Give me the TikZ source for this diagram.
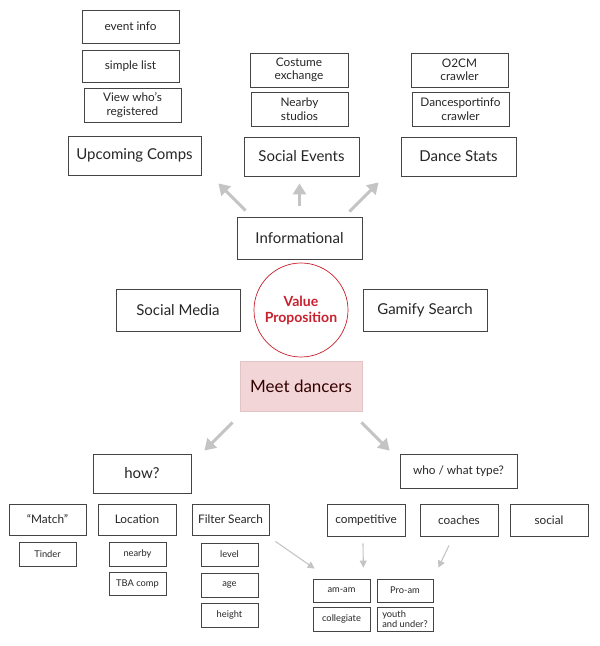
\documentclass[tikz,border=0pt]{standalone}
\usepackage{fontspec}
\setmainfont{Lato}
\usetikzlibrary{arrows.meta}

\definecolor{boxline}{HTML}{444444}
\definecolor{arrowgray}{HTML}{C4C4C4}
\definecolor{vpred}{HTML}{C8202C}
\definecolor{meetfill}{HTML}{F2D5D6}
\definecolor{meetline}{HTML}{E2C4C5}

\begin{document}
\begin{tikzpicture}[x=1pt,y=-1pt,
                box/.style={draw=boxline,line width=0.8pt,inner sep=0pt,align=center,text=black!85},
                bigbox/.style={box,font=\fontsize{15}{17}\selectfont},
                midbox/.style={box,font=\fontsize{11.8}{13.5}\selectfont},
                tinybox/.style={box,line width=0.7pt,font=\fontsize{9.3}{10.5}\selectfont},
                bigarrow/.style={arrowgray,line width=3pt,-{Triangle[width=13pt,length=11pt]}},
                thinarrow/.style={arrowgray,line width=1.1pt,-{Triangle[width=7pt,length=7pt]}}]
                \useasboundingbox (0,0) rectangle (600,646);
                % informational branch
                \node[midbox,minimum width=97pt,minimum height=33pt] (eventinfo) at (130.5,26.5) {event info};
                \node[midbox,minimum width=97pt,minimum height=32pt] (simplelist) at (130.5,66) {simple list};
                \node[midbox,minimum width=97pt,minimum height=34pt] (viewwho) at (132.5,105) {View who’s\\registered};
                \node[bigbox,minimum width=133pt,minimum height=39pt] (upcoming) at (134.5,155.5) {Upcoming Comps};
                \node[midbox,minimum width=98pt,minimum height=34pt] (costume) at (299,70) {Costume\\exchange};
                \node[midbox,minimum width=97pt,minimum height=34pt] (studios) at (299.5,109) {Nearby\\studios};
                \node[bigbox,minimum width=115pt,minimum height=39pt] (socialev) at (301.5,156.5) {Social Events};
                \node[midbox,minimum width=97pt,minimum height=34pt] (otcm) at (459.5,70) {O2CM\\crawler};
                \node[midbox,minimum width=97pt,minimum height=34pt] (dsinfo) at (460.5,109) {Dancesportinfo\\crawler};
                \node[bigbox,minimum width=115pt,minimum height=39pt] (stats) at (458.5,156.5) {Dance Stats};
                \node[bigbox,minimum width=125pt,minimum height=42pt] (info) at (299.5,238) {Informational};
                % centre
                \node[bigbox,minimum width=124pt,minimum height=42pt] (socmedia) at (178,310) {Social Media};
                \node[circle,draw=vpred,line width=0.7pt,minimum size=94pt,inner sep=0pt,align=center,
                      text=vpred,font=\fontsize{14}{16}\selectfont\bfseries] (vp) at (301,310) {Value\\Proposition};
                \node[bigbox,minimum width=124pt,minimum height=42pt] (gamify) at (425,310) {Gamify Search};
                \node[box,draw=meetline,fill=meetfill,text=black!80!red,minimum width=122pt,minimum height=50pt,
                      font=\fontsize{17}{19}\selectfont] (meet) at (301,386) {Meet dancers};
                % how?
                \node[bigbox,minimum width=98pt,minimum height=39pt] (how) at (142,473.5) {how?};
                \node[midbox,minimum width=77pt,minimum height=31pt] (match) at (47.5,519.5) {“Match”};
                \node[midbox,minimum width=78pt,minimum height=31pt] (location) at (137,519.5) {Location};
                \node[midbox,minimum width=77pt,minimum height=31pt] (filter) at (230.5,519.5) {Filter Search};
                \node[tinybox,minimum width=57pt,minimum height=24pt] (tinder) at (47.5,554) {Tinder};
                \node[tinybox,minimum width=57pt,minimum height=24pt] (nearby) at (137.5,554) {nearby};
                \node[tinybox,minimum width=57pt,minimum height=23pt] (tba) at (137.5,583.5) {TBA comp};
                \node[tinybox,minimum width=57pt,minimum height=23pt] (level) at (229.5,554.5) {level};
                \node[tinybox,minimum width=57pt,minimum height=24pt] (age) at (229.5,585) {age};
                \node[tinybox,minimum width=57pt,minimum height=24pt] (height) at (229.5,615) {height};
                % who / what type?
                \node[midbox,minimum width=117pt,minimum height=34pt] (who) at (458.5,471) {who / what type?};
                \node[midbox,minimum width=78pt,minimum height=32pt] (competitive) at (366,520) {competitive};
                \node[midbox,minimum width=78pt,minimum height=32pt] (coaches) at (459,520) {coaches};
                \node[midbox,minimum width=78pt,minimum height=32pt] (social) at (549,520) {social};
                \node[tinybox,minimum width=57pt,minimum height=23pt] (amam) at (341.5,590.5) {am-am};
                \node[tinybox,minimum width=56pt,minimum height=23pt] (proam) at (405,590.5) {Pro-am};
                \node[tinybox,minimum width=57pt,minimum height=24pt] (collegiate) at (341.5,619) {collegiate};
                \node[tinybox,minimum width=56pt,minimum height=24pt,align=left] (youth) at (405,619) {youth\\and under?};
                % arrows
                \draw[bigarrow] ([shift={(9,-6)}]info.north west) -- ([shift={(17,8)}]upcoming.south east);
                \draw[bigarrow] ([shift={(0,-11)}]info.north) -- ([shift={(-2,7)}]socialev.south);
                \draw[bigarrow] ([shift={(-13,-5)}]info.north east) -- ([shift={(-22,6)}]stats.south west);
                \draw[bigarrow] ([shift={(-7,11)}]meet.south west) -- ([shift={(13,-3)}]how.north east);
                \draw[bigarrow] ([shift={(-1,11)}]meet.south east) -- ([shift={(-10,-3)}]who.north west);
                \draw[thinarrow] ([shift={(6,6)}]filter.south east) -- ([shift={(2,-10)}]amam.north west);
                \draw[thinarrow] ([shift={(-3,7)}]competitive.south) -- ([shift={(-7,-11)}]amam.north east);
                \draw[thinarrow] ([shift={(-10,9)}]coaches.south) -- ([shift={(5,-11)}]proam.north east);
            \end{tikzpicture}
\end{document}
